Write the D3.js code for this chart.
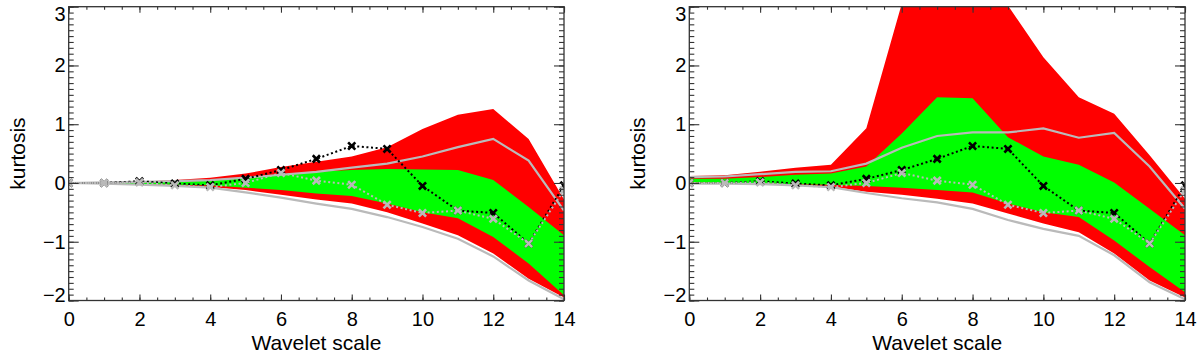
<!DOCTYPE html>
<html>
<head>
<meta charset="utf-8">
<script src="https://cdn.jsdelivr.net/npm/d3@7"></script>
<style>
  html, body { margin: 0; padding: 0; background: #fff; }
  svg { display: block; font-family: "Liberation Sans", Arial, sans-serif; }
</style>
</head>
<body>
<svg id="chart" width="1200" height="353"></svg>
<script>
// wavelet scale index, 0..14
const scales = d3.range(0, 15)

// left panel
const redUpA   = [0, 0.01, 0.02, 0.05, 0.09, 0.16, 0.27, 0.36, 0.45, 0.61, 0.92, 1.16, 1.26, 0.75, -0.28]
const redLoA   = [0, -0.01, -0.02, -0.05, -0.07, -0.12, -0.2, -0.28, -0.35, -0.5, -0.69, -0.89, -1.2, -1.63, -1.95]
const greenUpA = [0, 0, 0.01, 0.02, 0.04, 0.09, 0.15, 0.19, 0.22, 0.24, 0.23, 0.22, 0.05, -0.41, -0.89]
const greenLoA = [0, -0.01, -0.02, -0.03, -0.04, -0.08, -0.12, -0.18, -0.22, -0.35, -0.5, -0.6, -0.92, -1.37, -1.91]
const grayUpA  = [0, 0.01, 0.02, 0.03, 0.05, 0.09, 0.14, 0.19, 0.26, 0.33, 0.45, 0.61, 0.75, 0.38, -0.47]
const grayLoA  = [0, -0.01, -0.03, -0.05, -0.08, -0.16, -0.25, -0.35, -0.44, -0.58, -0.75, -0.95, -1.25, -1.66, -1.98]

// right panel
const redUpB   = [0.12, 0.13, 0.19, 0.26, 0.31, 0.93, 3.05, 3.6, 3.6, 3.02, 2.14, 1.46, 1.18, 0.47, -0.27]
const redLoB   = [-0.01, -0.01, -0.02, -0.04, -0.06, -0.15, -0.2, -0.27, -0.35, -0.52, -0.69, -0.84, -1.2, -1.66, -1.95]
const greenUpB = [0.07, 0.07, 0.1, 0.14, 0.16, 0.28, 0.84, 1.46, 1.44, 0.78, 0.45, 0.31, 0.01, -0.44, -0.89]
const greenLoB = [0.01, 0, -0.01, -0.02, -0.03, -0.05, -0.08, -0.12, -0.16, -0.35, -0.5, -0.58, -0.98, -1.43, -1.86]
const grayUpB  = [0.1, 0.11, 0.15, 0.19, 0.2, 0.33, 0.6, 0.8, 0.86, 0.86, 0.93, 0.77, 0.85, 0.28, -0.44]
const grayLoB  = [-0.01, -0.01, -0.02, -0.04, -0.07, -0.17, -0.26, -0.33, -0.44, -0.63, -0.78, -0.9, -1.23, -1.69, -1.98]

// measured kurtosis (same in both panels)
const kurtBlack = [0, 0, 0.03, -0.01, -0.04, 0.07, 0.22, 0.41, 0.63, 0.58, -0.05, -0.47, -0.51, -1.03, -0.04]
const kurtGray  = [0, 0, 0.01, -0.04, -0.07, 0, 0.17, 0.04, -0.03, -0.37, -0.51, -0.47, -0.61, -1.03, -0.12]

const xMajor = [0, 2, 4, 6, 8, 10, 12, 14]
const yMajor = [-2, -1, 0, 1, 2, 3]

const panels = [
  {id: "a", left: 68.7, right: 564, redUp: redUpA, redLo: redLoA, greenUp: greenUpA, greenLo: greenLoA, grayUp: grayUpA, grayLo: grayLoA},
  {id: "b", left: 689.3, right: 1185, redUp: redUpB, redLo: redLoB, greenUp: greenUpB, greenLo: greenLoB, grayUp: grayUpB, grayLo: grayLoB},
]

const plotTop = 6.7
const plotBottom = 300.5
const fontSize = 20
const grayCol = "#bababa"

const svg = d3.select("#chart")

function drawPanel(p) {
  const x = d3.scaleLinear().domain([0, 14]).range([p.left, p.right])
  const y = d3.scaleLinear().domain([-2, 3]).range([plotBottom, plotTop])

  const clipId = `clip-${p.id}`
  svg.append("clipPath").attr("id", clipId)
    .append("rect")
    .attr("x", p.left).attr("y", plotTop)
    .attr("width", p.right - p.left).attr("height", plotBottom - plotTop)

  const g = svg.append("g").attr("clip-path", `url(#${clipId})`)

  const band = (up, lo) => d3.area()
    .x((i) => x(i))
    .y0((i) => y(lo[i]))
    .y1((i) => y(up[i]))

  g.append("path").attr("d", band(p.redUp, p.redLo)(scales)).attr("fill", "#ff0000")
  g.append("path").attr("d", band(p.greenUp, p.greenLo)(scales)).attr("fill", "#00ff00")

  const line = (vals) => d3.line().x((i) => x(i)).y((i) => y(vals[i]))

  for (const vals of [p.grayUp, p.grayLo]) {
    g.append("path").attr("d", line(vals)(scales))
      .attr("fill", "none").attr("stroke", grayCol).attr("stroke-width", 2.2)
  }

  const drawDotted = (vals, color) => {
    g.append("path").attr("d", line(vals)(scales))
      .attr("fill", "none").attr("stroke", color)
      .attr("stroke-width", 2).attr("stroke-dasharray", "2,2.6")
    const s = 3.6
    g.append("g").selectAll("path")
      .data(scales)
      .join("path")
      .attr("d", (i) => {
        const cx = x(i), cy = y(vals[i])
        return `M${cx - s},${cy - s}L${cx + s},${cy + s}M${cx - s},${cy + s}L${cx + s},${cy - s}`
      })
      .attr("stroke", color).attr("stroke-width", 2.6).attr("fill", "none")
  }
  drawDotted(kurtBlack, "#000")
  drawDotted(kurtGray, grayCol)

  // axes: ticks point inward on all four sides
  const ax = svg.append("g").attr("font-size", fontSize)

  const yMinor = d3.range(-20, 31).map((v) => v / 10)
  const xMinor = d3.range(0, 29).map((v) => v / 2)

  const addAxis = (axis, tr, labels) => {
    const a = ax.append("g").attr("transform", tr).call(axis)
    a.select(".domain").remove()
    a.selectAll("line").attr("stroke", "#333").attr("stroke-width", 1.1)
    a.selectAll("text").attr("font-size", fontSize).attr("font-family", "Liberation Sans, Arial, sans-serif").attr("fill", "#000")
    if (!labels) a.selectAll("text").remove()
    return a
  }

  addAxis(d3.axisLeft(y).tickValues(yMinor).tickSize(-5).tickFormat(""), `translate(${p.left},0)`, false)
  addAxis(d3.axisRight(y).tickValues(yMinor).tickSize(-5).tickFormat(""), `translate(${p.right},0)`, false)
  const yl = addAxis(d3.axisLeft(y).tickValues(yMajor).tickSize(-10).tickPadding(3).tickFormat(d3.format("d")), `translate(${p.left},0)`, true)
  addAxis(d3.axisRight(y).tickValues(yMajor).tickSize(-10), `translate(${p.right},0)`, false)
  // keep the end labels inside the frame
  yl.selectAll(".tick").each(function (d) {
    const t = d3.select(this).select("text")
    if (d === 3) t.attr("y", 7.5)
    if (d === -2) t.attr("y", -5.5)
  })

  addAxis(d3.axisBottom(x).tickValues(xMinor).tickSize(-3).tickFormat(""), `translate(0,${plotBottom})`, false)
  addAxis(d3.axisTop(x).tickValues(xMinor).tickSize(-3).tickFormat(""), `translate(0,${plotTop})`, false)
  addAxis(d3.axisBottom(x).tickValues(xMajor).tickSize(-6).tickPadding(11).tickFormat(d3.format("d")), `translate(0,${plotBottom})`, true)
  addAxis(d3.axisTop(x).tickValues(xMajor).tickSize(-6), `translate(0,${plotTop})`, false)

  ax.append("rect")
    .attr("x", p.left).attr("y", plotTop)
    .attr("width", p.right - p.left).attr("height", plotBottom - plotTop)
    .attr("fill", "none").attr("stroke", "#333").attr("stroke-width", 1.3)

  ax.append("text")
    .attr("x", (p.left + p.right) / 2).attr("y", 350)
    .attr("text-anchor", "middle").attr("font-size", 21)
    .text("Wavelet scale")

  ax.append("text")
    .attr("transform", `translate(${p.left - 44},${(plotTop + plotBottom) / 2}) rotate(-90)`)
    .attr("text-anchor", "middle").attr("font-size", 21)
    .text("kurtosis")
}

panels.forEach(drawPanel)
</script>
</body>
</html>
